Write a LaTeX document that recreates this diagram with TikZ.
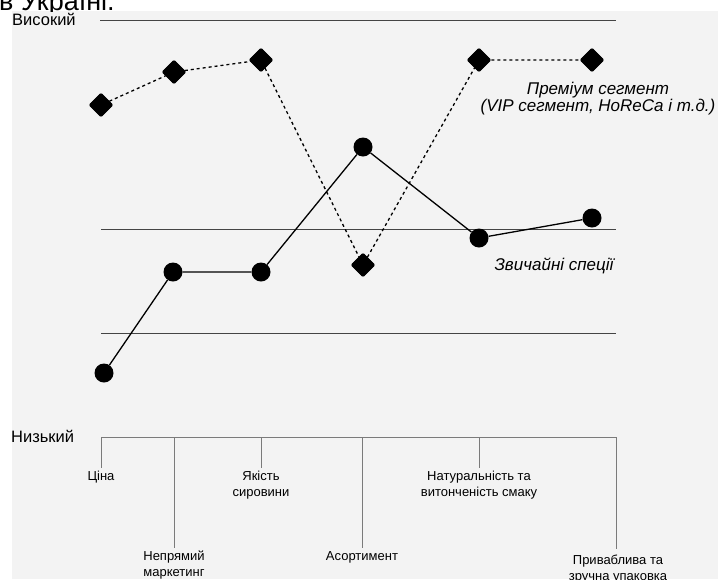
\documentclass[tikz,border=0pt]{standalone}
\usepackage{fontspec}
\setmainfont{Liberation Sans}
\usetikzlibrary{shapes.geometric}
\definecolor{bg}{HTML}{F3F3F3}
\definecolor{gridc}{HTML}{444444}
\definecolor{tickc}{HTML}{7A7A7A}
\tikzset{
  dia/.style={diamond, fill=black, draw=black, line width=0.6pt, minimum width=24pt, minimum height=24pt, inner sep=0pt, rounded corners=1.2pt},
  dot/.style={circle, fill=black, minimum size=19pt, inner sep=0pt},
  solidc/.style={draw=black, line width=1.3pt},
  dashc/.style={draw=black, line width=1.3pt, dash pattern=on 3pt off 3pt},
  gridl/.style={draw=gridc, line width=1pt},
  tickl/.style={draw=tickc, line width=1pt},
  lab/.style={font=\fontsize{13}{16}\selectfont, align=center, inner sep=0pt},
  axlab/.style={font=\fontsize{16.5}{19}\selectfont, inner sep=0pt, anchor=west},
  itl/.style={font=\fontsize{17}{15.5}\selectfont\itshape, align=center, inner sep=0pt}
}
\begin{document}
\begin{tikzpicture}[x=1pt,y=-1pt]
\useasboundingbox (0,0) rectangle (718,579);
\fill[white] (0,0) rectangle (718,579);
\fill[bg] (12,11) rectangle (718,579);
% cut-off title
\begin{scope}
\clip (0,0) rectangle (718,11);
\node[anchor=base west, inner sep=0pt, text depth=0pt, font=\fontsize{27}{30}\selectfont] (title) at (-1,10) {в Україні.};
\end{scope}
% axis labels
\node[axlab, anchor=base west] (hi) at (12,25) {Високий};
\node[axlab] (lo) at (11,436) {Низький};
% horizontal grid lines
\coordinate (g1a) at (100,20);  \coordinate (g1b) at (616,20);
\coordinate (g2a) at (101,229); \coordinate (g2b) at (616,229);
\coordinate (g3a) at (101,333); \coordinate (g3b) at (616,333);
\draw[gridl] (g1a) -- (g1b);
\draw[gridl] (g2a) -- (g2b);
\draw[gridl] (g3a) -- (g3b);
% premium series
\node[dia] (p1) at (101,105) {};
\node[dia] (p2) at (174,72) {};
\node[dia] (p3) at (261,60) {};
\node[dia] (p4) at (363,265) {};
\node[dia] (p5) at (479,60) {};
\node[dia] (p6) at (592,60) {};
\draw[dashc] (p1) -- (p2) -- (p3) -- (p4) -- (p5) -- (p6);
% regular series
\node[dot] (r1) at (104,373) {};
\node[dot] (r2) at (173,272) {};
\node[dot] (r3) at (261,272) {};
\node[dot] (r4) at (363,147) {};
\node[dot] (r5) at (479,238) {};
\node[dot] (r6) at (592,218) {};
\draw[solidc] (r1) -- (r2) -- (r3) -- (r4) -- (r5) -- (r6);
% series labels
\node[itl] (plab) at (598,99) {Преміум сегмент\\(VIP сегмент, HoReCa і т.д.)};
\node[itl] (rlab) at (554,266) {Звичайні спеції};
% bottom axis
\coordinate (ba) at (101,437); \coordinate (bb) at (616,437);
\draw[tickl] (ba) -- (bb);
\coordinate (t1) at (101,437); \coordinate (t1e) at (101,468);
\coordinate (t2) at (174,437); \coordinate (t2e) at (174,548);
\coordinate (t3) at (261,437); \coordinate (t3e) at (261,468);
\coordinate (t4) at (362,437); \coordinate (t4e) at (362,548);
\coordinate (t5) at (479,437); \coordinate (t5e) at (479,468);
\coordinate (t6) at (616,437); \coordinate (t6e) at (616,549);
\foreach \i in {1,...,6} {\draw[tickl] (t\i) -- (t\i e);}
\node[lab, anchor=north] (l1) at (101,471) {Ціна};
\node[lab, anchor=north] (l2) at (174,551) {Непрямий\\маркетинг};
\node[lab, anchor=north] (l3) at (261,471) {Якість\\сировини};
\node[lab, anchor=north] (l4) at (362,551) {Асортимент};
\node[lab, anchor=north] (l5) at (479,471) {Натуральність та\\витонченість смаку};
\node[lab, anchor=north] (l6) at (618,555) {Приваблива та\\зручна упаковка};
\end{tikzpicture}
\end{document}
